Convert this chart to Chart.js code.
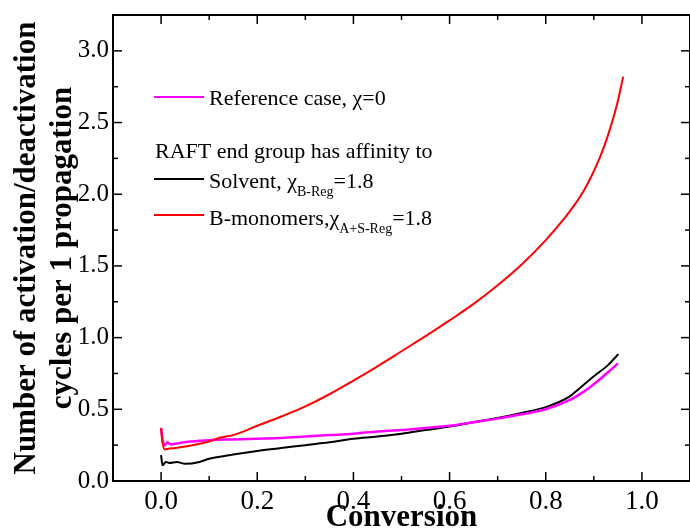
<!DOCTYPE html>
<html><head><meta charset="utf-8">
<script src="https://cdn.jsdelivr.net/npm/chart.js@4.4.1/dist/chart.umd.min.js"></script>
<style>html,body{margin:0;padding:0;background:#fff;}canvas{display:block;}</style>
</head><body>
<canvas id="c" width="690" height="529"></canvas>
<script>
// ---- data ----
const refX = [0, 0.003, 0.008, 0.013, 0.02, 0.03, 0.05, 0.08, 0.1, 0.15, 0.2, 0.25, 0.3, 0.35, 0.4, 0.45, 0.5, 0.55, 0.6, 0.65, 0.7, 0.75, 0.8, 0.85, 0.88, 0.9, 0.93, 0.95];
const refY = [0.37, 0.29, 0.25, 0.27, 0.255, 0.26, 0.27, 0.28, 0.285, 0.29, 0.295, 0.30, 0.31, 0.32, 0.33, 0.345, 0.355, 0.37, 0.385, 0.41, 0.435, 0.465, 0.50, 0.565, 0.625, 0.675, 0.76, 0.82];

const solvX = [0, 0.003, 0.01, 0.017, 0.033, 0.05, 0.08, 0.1, 0.15, 0.2, 0.25, 0.3, 0.35, 0.4, 0.45, 0.5, 0.55, 0.6, 0.65, 0.7, 0.75, 0.8, 0.85, 0.87, 0.9, 0.93, 0.951];
const solvY = [0.18, 0.11, 0.133, 0.126, 0.133, 0.12, 0.133, 0.155, 0.185, 0.21, 0.23, 0.25, 0.27, 0.295, 0.31, 0.33, 0.355, 0.38, 0.41, 0.44, 0.475, 0.515, 0.59, 0.645, 0.73, 0.81, 0.885];

const bmonX = [0, 0.003, 0.008, 0.015, 0.03, 0.05, 0.08, 0.1, 0.12, 0.15, 0.2, 0.25, 0.3, 0.35, 0.4, 0.45, 0.5, 0.55, 0.6, 0.65, 0.7, 0.75, 0.8, 0.85, 0.88, 0.9, 0.92, 0.935, 0.95, 0.961];
const bmonY = [0.37, 0.27, 0.22, 0.225, 0.23, 0.24, 0.26, 0.275, 0.30, 0.32, 0.385, 0.45, 0.52, 0.605, 0.70, 0.80, 0.905, 1.01, 1.12, 1.235, 1.365, 1.51, 1.68, 1.88, 2.03, 2.16, 2.32, 2.47, 2.65, 2.82];

const xTickValues = [0, 0.2, 0.4, 0.6, 0.8, 1.0];
const xTickLabels = ['0.0', '0.2', '0.4', '0.6', '0.8', '1.0'];
const xMinorTicks = [0.1, 0.3, 0.5, 0.7, 0.9];
const yTickValues = [0, 0.5, 1.0, 1.5, 2.0, 2.5, 3.0];
const yTickLabels = ['0.0', '0.5', '1.0', '1.5', '2.0', '2.5', '3.0'];
const yMinorTicks = [0.25, 0.75, 1.25, 1.75, 2.25, 2.75];

const seriesNames = ['Reference case, χ=0', 'Solvent, χ', 'B-monomers,χ'];
const seriesSubs = ['', 'B-Reg', 'A+S-Reg'];
const seriesTails = ['', '=1.8', '=1.8'];
const legendHeader = 'RAFT end group has affinity to';
const xTitle = 'Conversion';
const yTitle = ['Number of activation/deactivation', 'cycles per 1 propagation'];

const SERIF = '"Liberation Serif", "Times New Roman", serif';
const toPts = (xs, ys) => xs.map((v, i) => ({x: v, y: ys[i]}));

const frameTicks = {
  id: 'frameTicks',
  afterDatasetsDraw(chart) {
    const {ctx, chartArea: a, scales: {x, y}} = chart;
    ctx.save();
    ctx.strokeStyle = '#000';
    ctx.lineWidth = 2;
    ctx.strokeRect(a.left, a.top, a.right - a.left, a.bottom - a.top);
    ctx.lineWidth = 1.5;
    const seg = (x1, y1, x2, y2) => { ctx.beginPath(); ctx.moveTo(x1, y1); ctx.lineTo(x2, y2); ctx.stroke(); };
    xTickValues.forEach(v => { const p = x.getPixelForValue(v); seg(p, a.bottom, p, a.bottom - 9); seg(p, a.top, p, a.top + 9); });
    xMinorTicks.forEach(v => { const p = x.getPixelForValue(v); seg(p, a.bottom, p, a.bottom - 5); seg(p, a.top, p, a.top + 5); });
    yTickValues.forEach(v => { const p = y.getPixelForValue(v); seg(a.left, p, a.left + 9, p); seg(a.right, p, a.right - 9, p); });
    yMinorTicks.forEach(v => { const p = y.getPixelForValue(v); seg(a.left, p, a.left + 5, p); seg(a.right, p, a.right - 5, p); });
    ctx.restore();
  }
};

const customLegend = {
  id: 'customLegend',
  afterDraw(chart) {
    const {ctx} = chart;
    const ds = chart.data.datasets;
    const lineX1 = 154, lineX2 = 204, textX = 209;
    const rows = [
      {type: 'item', i: 0, lineY: 97, base: 105},
      {type: 'head', base: 158},
      {type: 'item', i: 1, lineY: 179, base: 188},
      {type: 'item', i: 2, lineY: 215, base: 225}
    ];
    ctx.save();
    ctx.fillStyle = '#000';
    ctx.textBaseline = 'alphabetic';
    ctx.textAlign = 'left';
    rows.forEach(r => {
      if (r.type === 'head') {
        ctx.font = '22px ' + SERIF;
        ctx.fillText(legendHeader, 155, r.base);
        return;
      }
      const d = ds[r.i];
      ctx.strokeStyle = d.borderColor;
      ctx.lineWidth = 2;
      ctx.beginPath(); ctx.moveTo(lineX1, r.lineY); ctx.lineTo(lineX2, r.lineY); ctx.stroke();
      let cx = textX;
      ctx.font = '22px ' + SERIF;
      ctx.fillText(seriesNames[r.i], cx, r.base);
      cx += ctx.measureText(seriesNames[r.i]).width;
      if (seriesSubs[r.i]) {
        ctx.font = '14px ' + SERIF;
        ctx.fillText(seriesSubs[r.i], cx, r.base + 8);
        cx += ctx.measureText(seriesSubs[r.i]).width;
        ctx.font = '22px ' + SERIF;
        ctx.fillText(seriesTails[r.i], cx, r.base);
      }
    });
    ctx.restore();
  }
};

new Chart(document.getElementById('c'), {
  type: 'line',
  data: {
    datasets: [
      {label: seriesNames[0], data: toPts(refX, refY), borderColor: '#FF00FF', borderWidth: 2.5, order: 2},
      {label: seriesNames[1], data: toPts(solvX, solvY), borderColor: '#000000', borderWidth: 2, order: 3},
      {label: seriesNames[2], data: toPts(bmonX, bmonY), borderColor: '#FF0000', borderWidth: 2, order: 1}
    ]
  },
  options: {
    responsive: false,
    animation: false,
    devicePixelRatio: 1,
    layout: {padding: {top: 15, right: 0, left: 0, bottom: 0}},
    elements: {point: {radius: 0}, line: {cubicInterpolationMode: 'monotone', fill: false}},
    plugins: {legend: {display: false}, tooltip: {enabled: false}},
    scales: {
      x: {
        type: 'linear', min: -0.1, max: 1.1,
        afterBuildTicks: s => { s.ticks = xTickValues.map(v => ({value: v})); },
        afterFit: s => { s.height = 48; },
        grid: {display: false}, border: {display: false},
        ticks: {
          callback: (v) => xTickLabels[xTickValues.indexOf(v)] ?? '',
          color: '#000', padding: -1, maxRotation: 0, autoSkip: false,
          font: {family: SERIF, size: 27, lineHeight: 1}
        },
        title: {display: true, text: xTitle, color: '#000', padding: 0,
          font: {family: SERIF, size: 31, weight: 'bold', lineHeight: '22px'}}
      },
      y: {
        type: 'linear', min: 0, max: 3.25,
        afterBuildTicks: s => { s.ticks = yTickValues.map(v => ({value: v})); },
        afterFit: s => { s.width = 113; },
        grid: {display: false}, border: {display: false},
        ticks: {
          callback: (v) => yTickLabels[yTickValues.indexOf(v)] ?? '',
          color: '#000', padding: -4, autoSkip: false,
          font: {family: SERIF, size: 25}
        },
        title: {display: true, text: yTitle, color: '#000', padding: {top: 9, bottom: 0},
          font: {family: SERIF, size: 31, weight: 'bold', lineHeight: '36px'}}
      }
    }
  },
  plugins: [frameTicks, customLegend]
});
</script>
</body></html>
